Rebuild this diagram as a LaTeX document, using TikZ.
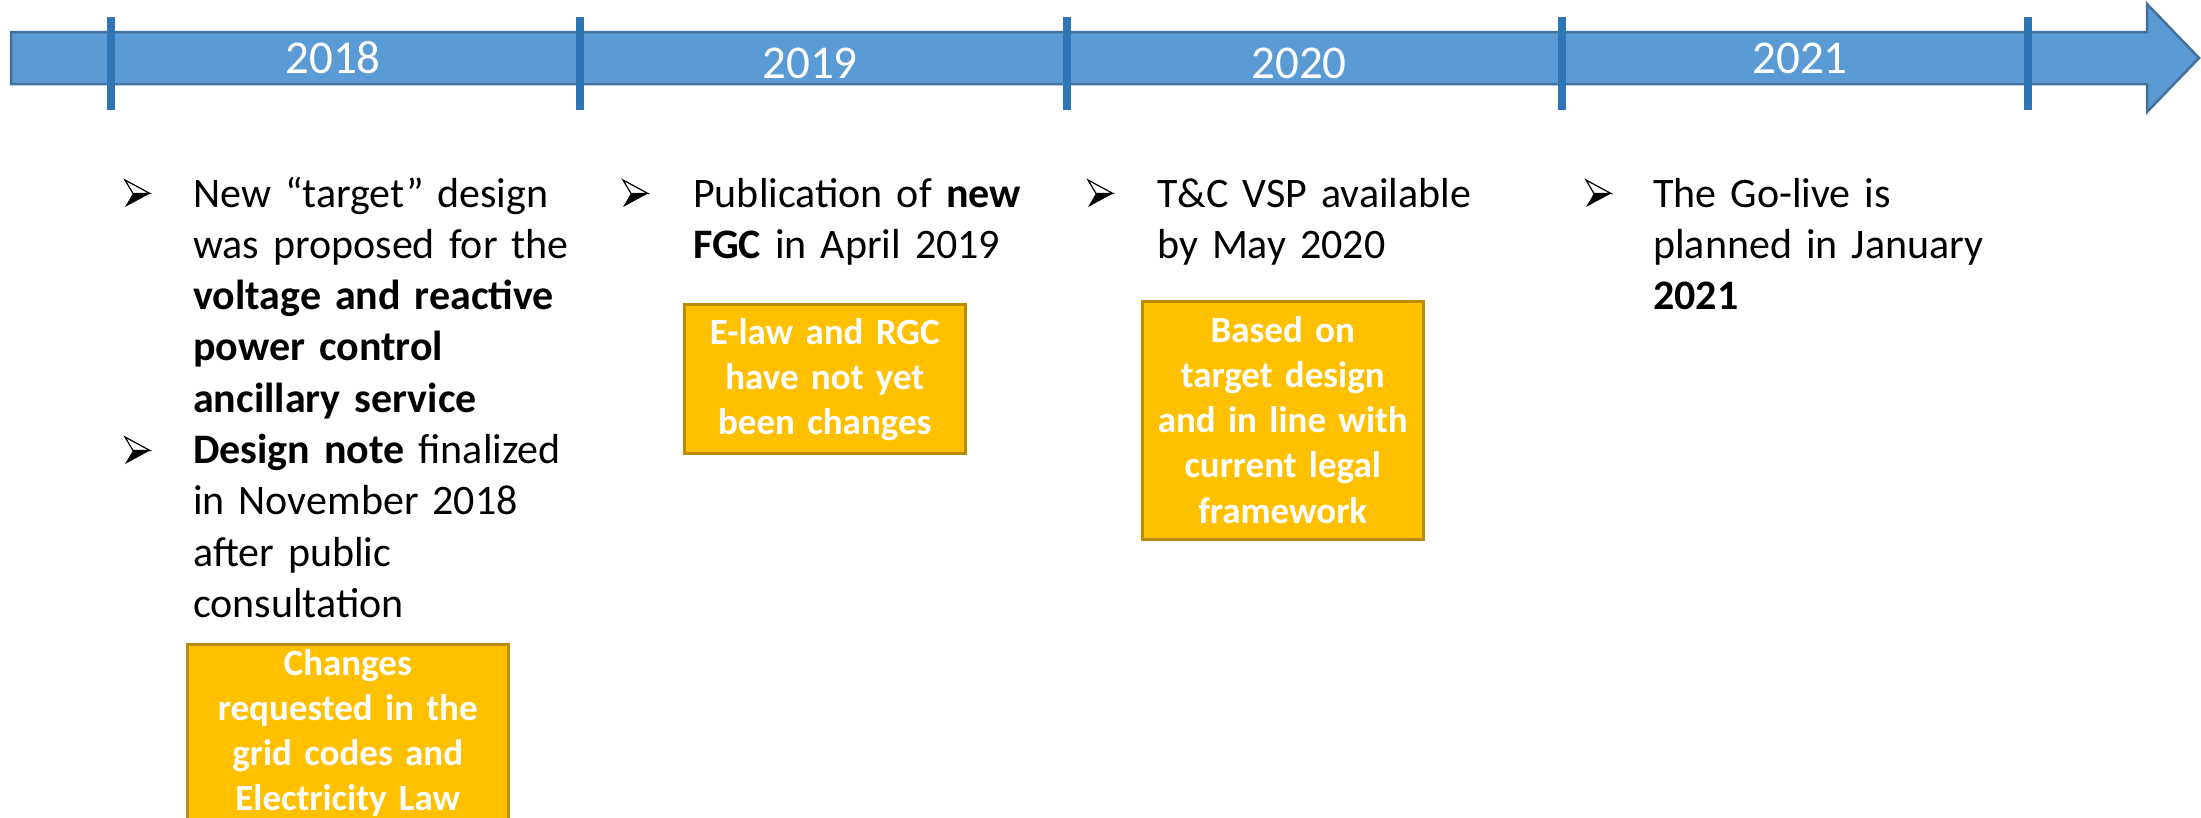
\documentclass[tikz,border=0pt]{standalone}
\usepackage{fontspec}
\setmainfont{Carlito}
\definecolor{arrowfill}{HTML}{5B9BD5}
\definecolor{arrowline}{HTML}{41719C}
\definecolor{tickblue}{HTML}{2E75B6}
\definecolor{boxfill}{HTML}{FFC000}
\definecolor{boxline}{HTML}{BC8C00}
\begin{document}
\begin{tikzpicture}[x=1pt,y=-1pt,
  yearlbl/.style={text=white, inner sep=0pt, font=\fontsize{47}{56}\selectfont},
  tickline/.style={draw=tickblue, line width=8pt},
  bodytext/.style={anchor=base west, inner sep=0pt, align=left, font=\fontsize{42}{51.3}\selectfont},
  ybox/.style={draw=boxline, fill=boxfill, line width=2.5pt, inner sep=0pt, anchor=north west},
  boxtext/.style={anchor=base, inner sep=0pt, align=center, text width=280pt, text=white, font=\bfseries\fontsize{37}{45.3}\selectfont},
  bul/.pic={
    \draw[line width=1.2pt, fill=white, line join=miter] (0,0) -- (25,13.5) -- (8,13.5) -- cycle;
    \fill[black] (8,13.5) -- (25,13.5) -- (0,27) -- cycle;
  }]
\useasboundingbox (0,0) rectangle (2201,817);
\clip (0,0) rectangle (2201,817);
\fill[white] (0,0) rectangle (2201,817);

% timeline arrow
\draw[fill=arrowfill, draw=arrowline, line width=2.5pt, line join=miter]
  (11,32) -- (2147,32) -- (2147,4) -- (2199,58) -- (2147,112) -- (2147,84) -- (11,84) -- cycle;
\foreach \tx in {111,580,1067,1562,2028}
  \draw[tickline] (\tx,17) -- (\tx,110);

\node[yearlbl] (y2018) at (333,58) {2018};
\node[yearlbl] (y2019) at (810,63) {2019};
\node[yearlbl] (y2020) at (1299,63) {2020};
\node[yearlbl] (y2021) at (1800,58) {2021};

% bullets
\pic at (125,180) {bul};
\pic at (125,437) {bul};
\pic at (623,180) {bul};
\pic at (1088,180) {bul};
\pic at (1586,180) {bul};

% column texts
\node[bodytext, text width=390pt] (c1a) at (193,207)
  {New “target” design\\was proposed for the\\\textbf{voltage and reactive}\\\textbf{power control}\\\textbf{ancillary service}};
\node[bodytext, text width=390pt] (c1b) at (193,463.5)
  {\textbf{Design note} finalized\\in November 2018\\after public\\consultation};
\node[bodytext, text width=370pt] (c2) at (693,207)
  {Publication of \textbf{new}\\\textbf{FGC} in April 2019};
\node[bodytext, text width=370pt] (c3) at (1157,207)
  {T\&C VSP available\\by May 2020};
\node[bodytext, text width=370pt] (c4) at (1653,207)
  {The Go-live is\\planned in January\\\textbf{2021}};

% yellow boxes
\node[ybox, minimum width=321pt, minimum height=220pt] (b1) at (186,643) {};
\node[boxtext] (b1t) at ([yshift=-32pt]b1.north)
  {Changes\\requested in the\\grid codes and\\Electricity Law};
\node[ybox, minimum width=281pt, minimum height=149pt] (b2) at (683,303) {};
\node[boxtext] (b2t) at ([yshift=-41pt]b2.north)
  {E-law and RGC\\have not yet\\been changes};
\node[ybox, minimum width=281pt, minimum height=238pt] (b3) at (1141,300) {};
\node[boxtext] (b3t) at ([yshift=-42pt]b3.north)
  {Based on\\target design\\and in line with\\current legal\\framework};
\end{tikzpicture}
\end{document}
